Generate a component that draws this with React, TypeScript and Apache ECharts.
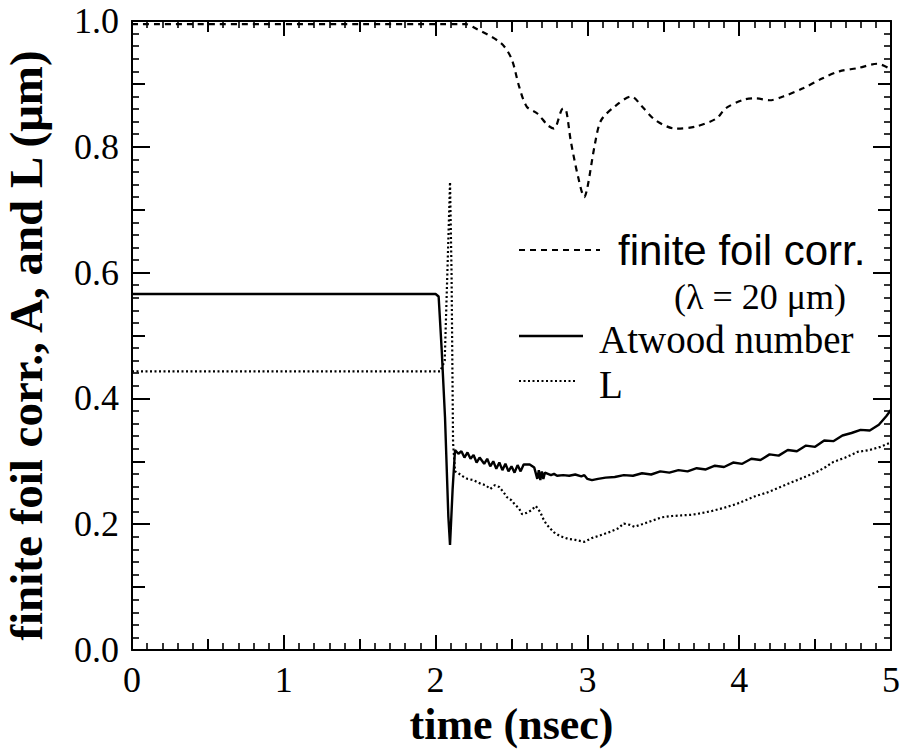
import React, { useEffect, useRef } from "react";
import * as echarts from "echarts";

// finite foil correction (dashed)
const foilT = [0, 2.2, 2.25, 2.43, 2.5, 2.55, 2.6, 2.67, 2.74, 2.78, 2.84, 2.86, 2.89, 2.94, 2.98, 3.0, 3.05, 3.09, 3.18, 3.29, 3.36, 3.45, 3.58, 3.71, 3.85, 3.91, 4.03, 4.11, 4.2, 4.29, 4.42, 4.55, 4.66, 4.78, 4.91, 5.0];
const foilV = [0.995, 0.995, 0.99, 0.965, 0.94, 0.896, 0.864, 0.853, 0.834, 0.829, 0.861, 0.858, 0.81, 0.751, 0.72, 0.735, 0.805, 0.842, 0.864, 0.88, 0.864, 0.842, 0.829, 0.832, 0.845, 0.861, 0.875, 0.877, 0.874, 0.88, 0.893, 0.909, 0.92, 0.925, 0.932, 0.923];

// Atwood number (solid)
const atwT = [0, 2.0, 2.02, 2.04, 2.062, 2.084, 2.095, 2.112, 2.128, 2.15, 2.17, 2.19, 2.21, 2.23, 2.25, 2.27, 2.29, 2.32, 2.34, 2.36, 2.38, 2.4, 2.42, 2.44, 2.46, 2.48, 2.5, 2.52, 2.54, 2.56, 2.58, 2.62, 2.65, 2.67, 2.68, 2.69, 2.7, 2.71, 2.72, 2.74, 2.76, 2.78, 2.8, 2.84, 2.88, 2.92, 2.96, 2.98, 3.0, 3.03, 3.07, 3.12, 3.18, 3.24, 3.3, 3.36, 3.42, 3.48, 3.54, 3.6, 3.66, 3.72, 3.78, 3.84, 3.9, 3.96, 4.02, 4.08, 4.14, 4.2, 4.26, 4.32, 4.38, 4.44, 4.5, 4.56, 4.62, 4.68, 4.74, 4.8, 4.86, 4.92, 4.97, 5.0];
const atwV = [0.566, 0.566, 0.562, 0.478, 0.37, 0.212, 0.167, 0.255, 0.318, 0.312, 0.316, 0.306, 0.314, 0.304, 0.31, 0.298, 0.306, 0.296, 0.304, 0.292, 0.3, 0.288, 0.298, 0.286, 0.296, 0.284, 0.292, 0.282, 0.294, 0.284, 0.295, 0.295, 0.29, 0.272, 0.286, 0.27, 0.284, 0.272, 0.282, 0.28, 0.278, 0.28, 0.277, 0.278, 0.277, 0.279, 0.276, 0.278, 0.272, 0.27, 0.272, 0.274, 0.275, 0.278, 0.277, 0.281, 0.279, 0.284, 0.282, 0.286, 0.284, 0.289, 0.287, 0.293, 0.291, 0.298, 0.296, 0.304, 0.302, 0.311, 0.309, 0.318, 0.316, 0.325, 0.323, 0.333, 0.332, 0.341, 0.345, 0.35, 0.349, 0.358, 0.372, 0.382];

// L (dotted)
const lT = [0, 2.03, 2.05, 2.06, 2.08, 2.095, 2.105, 2.115, 2.128, 2.15, 2.18, 2.21, 2.25, 2.3, 2.33, 2.36, 2.39, 2.42, 2.45, 2.47, 2.5, 2.52, 2.55, 2.57, 2.6, 2.63, 2.66, 2.69, 2.71, 2.73, 2.76, 2.78, 2.82, 2.87, 2.92, 2.98, 3.03, 3.07, 3.14, 3.2, 3.24, 3.28, 3.31, 3.36, 3.42, 3.49, 3.56, 3.62, 3.69, 3.76, 3.82, 3.9, 3.98, 4.04, 4.11, 4.18, 4.24, 4.31, 4.38, 4.44, 4.51, 4.57, 4.62, 4.7, 4.78, 4.86, 4.93, 5.0];
const lV = [0.443, 0.443, 0.454, 0.46, 0.62, 0.744, 0.6, 0.33, 0.284, 0.281, 0.276, 0.272, 0.27, 0.264, 0.262, 0.256, 0.262, 0.259, 0.25, 0.243, 0.238, 0.232, 0.225, 0.216, 0.218, 0.222, 0.229, 0.219, 0.208, 0.2, 0.192, 0.187, 0.181, 0.177, 0.175, 0.172, 0.178, 0.181, 0.187, 0.193, 0.201, 0.199, 0.196, 0.2, 0.205, 0.211, 0.213, 0.214, 0.215, 0.218, 0.221, 0.226, 0.232, 0.238, 0.245, 0.25, 0.256, 0.263, 0.27, 0.276, 0.283, 0.291, 0.299, 0.306, 0.315, 0.318, 0.323, 0.33];

const xTicks = [0, 1, 2, 3, 4, 5];
const yTicks = [0, 0.2, 0.4, 0.6, 0.8, 1.0];

const SERIF = "'Liberation Serif', 'Times New Roman', serif";
const SANS = "'Liberation Sans', Arial, sans-serif";

const pairs = (t: number[], v: number[]) => t.map((x, i) => [x, v[i]]);

export default function App() {
  const ref = useRef<HTMLDivElement>(null);
  useEffect(() => {
    if (!ref.current) return;
    const chart = echarts.init(ref.current, null, { renderer: "svg" });
    const black = "#000";
    const xBase = (pos: "bottom" | "top", interval: number, main: boolean, labels: boolean) => ({
      type: "value",
      position: pos,
      min: xTicks[0],
      max: xTicks[xTicks.length - 1],
      interval,
      axisLine: { show: main, onZero: false, lineStyle: { color: black, width: 2 } },
      axisTick: { show: true, inside: true, length: main ? 15 : 11, lineStyle: { color: black, width: 2 } },
      minorTick: { show: main, splitNumber: 10, length: 7, lineStyle: { color: black, width: 1.6 } },
      splitLine: { show: false },
      axisLabel: labels
        ? { show: true, color: black, fontFamily: SERIF, fontSize: 36, margin: 12 }
        : { show: false },
      ...(labels
        ? {
            name: "time (nsec)",
            nameLocation: "middle",
            nameGap: 51,
            nameTextStyle: { color: black, fontFamily: SERIF, fontWeight: "bold", fontSize: 44, lineHeight: 44 },
          }
        : {}),
    });
    const yBase = (pos: "left" | "right", interval: number, main: boolean, labels: boolean) => ({
      type: "value",
      position: pos,
      min: yTicks[0],
      max: yTicks[yTicks.length - 1],
      interval,
      axisLine: { show: main, onZero: false, lineStyle: { color: black, width: 2 } },
      axisTick: { show: true, inside: true, length: main ? 18 : 13, lineStyle: { color: black, width: 2 } },
      minorTick: { show: main, splitNumber: 10, length: 7, lineStyle: { color: black, width: 1.6 } },
      splitLine: { show: false },
      axisLabel: labels
        ? {
            show: true,
            color: black,
            fontFamily: SERIF,
            fontSize: 36,
            margin: 13,
            formatter: (v: number) => v.toFixed(1),
          }
        : { show: false },
      ...(labels
        ? {
            name: "finite foil corr., A, and L (μm)",
            nameLocation: "middle",
            nameGap: 83,
            nameTextStyle: { color: black, fontFamily: SERIF, fontWeight: "bold", fontSize: 47, padding: [0, 20, 0, 0] },
          }
        : {}),
    });

    const lx1 = 519;
    chart.setOption({
      animation: false,
      backgroundColor: "#fff",
      grid: { left: 132, right: 10, top: 21, bottom: 99, containLabel: false, outerBoundsMode: "none" },
      xAxis: [
        xBase("bottom", 1, true, true),
        xBase("bottom", 0.5, false, false),
        xBase("top", 1, true, false),
        xBase("top", 0.5, false, false),
      ],
      yAxis: [
        yBase("left", 0.2, true, true),
        yBase("left", 0.1, false, false),
        yBase("right", 0.2, true, false),
        yBase("right", 0.1, false, false),
      ],
      series: [
        {
          name: "finite foil corr.",
          type: "line",
          data: pairs(foilT, foilV),
          showSymbol: false,
          smooth: 0.3,
          lineStyle: { color: black, width: 2.2, type: [6, 5] },
        },
        {
          name: "Atwood number",
          type: "line",
          data: pairs(atwT, atwV),
          showSymbol: false,
          lineStyle: { color: black, width: 2.4, type: "solid" },
        },
        {
          name: "L",
          type: "line",
          data: pairs(lT, lV),
          showSymbol: false,
          lineStyle: { color: black, width: 2.2, type: [2, 2.5] },
        },
      ],
      graphic: [
        { type: "line", shape: { x1: lx1, y1: 250, x2: 600, y2: 250 }, style: { stroke: black, lineWidth: 2.2, lineDash: [6, 5] } },
        { type: "text", x: 618, y: 250, style: { text: "finite foil corr.", fill: black, fontFamily: SANS, fontSize: 42, verticalAlign: "middle", align: "left" } },
        { type: "text", x: 760, y: 297, style: { text: "(λ = 20 μm)", fill: black, fontFamily: SERIF, fontSize: 36, verticalAlign: "middle", align: "center" } },
        { type: "line", shape: { x1: lx1, y1: 336, x2: 583, y2: 336 }, style: { stroke: black, lineWidth: 2.4 } },
        { type: "text", x: 599, y: 339, style: { text: "Atwood number", fill: black, fontFamily: SERIF, fontSize: 39, verticalAlign: "middle", align: "left" } },
        { type: "line", shape: { x1: lx1, y1: 381, x2: 576, y2: 381 }, style: { stroke: black, lineWidth: 2.2, lineDash: [2, 2.5] } },
        { type: "text", x: 599, y: 384, style: { text: "L", fill: black, fontFamily: SERIF, fontSize: 39, verticalAlign: "middle", align: "left" } },
      ],
    });
    return () => chart.dispose();
  }, []);
  return (
    <div
      ref={ref}
      style={{ position: "fixed", left: 0, top: 0, width: 901, height: 749, background: "#fff" }}
    />
  );
}
